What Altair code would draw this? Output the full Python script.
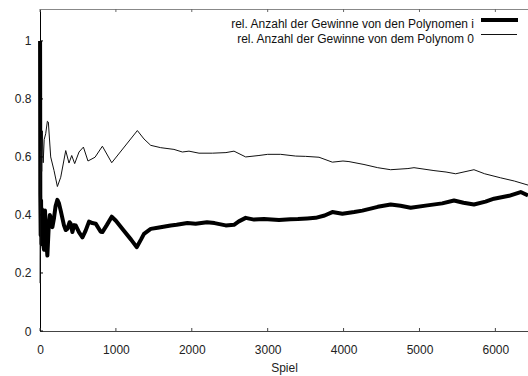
import altair as alt
import pandas as pd

# Spielnummer und relative Gewinnanteile
spiel_i = [1, 4, 9, 14, 20, 26, 31, 42, 53, 66, 80, 97, 115, 130, 141, 163, 185, 205, 229, 250,
           273, 316, 339, 361, 390, 404, 427, 450, 470, 515, 559, 600, 646, 690, 734, 800, 822,
           880, 945, 1000, 1100, 1200, 1274, 1330, 1370, 1459, 1550, 1722, 1800, 1942, 2051,
           2200, 2300, 2447, 2556, 2620, 2710, 2820, 2951, 3149, 3300, 3399, 3520, 3632, 3750,
           3852, 3984, 4140, 4248, 4450, 4621, 4750, 4884, 5104, 5300, 5455, 5580, 5718, 5870,
           5982, 6180, 6333, 6430]
anteil_i = [1.0, 0.47, 0.33, 0.45, 0.30, 0.42, 0.37, 0.30, 0.28, 0.415, 0.33, 0.26, 0.36, 0.40,
            0.39, 0.358, 0.39, 0.43, 0.452, 0.44, 0.415, 0.364, 0.348, 0.352, 0.375, 0.37, 0.341,
            0.365, 0.364, 0.34, 0.323, 0.345, 0.377, 0.372, 0.37, 0.342, 0.341, 0.365, 0.394,
            0.38, 0.347, 0.315, 0.289, 0.315, 0.335, 0.352, 0.356, 0.364, 0.366, 0.372, 0.37,
            0.375, 0.372, 0.364, 0.366, 0.378, 0.39, 0.384, 0.386, 0.383, 0.385, 0.386, 0.388,
            0.39, 0.398, 0.41, 0.404, 0.41, 0.415, 0.428, 0.436, 0.432, 0.425, 0.433, 0.44,
            0.45, 0.442, 0.436, 0.446, 0.456, 0.466, 0.479, 0.467]

spiel_0 = [1, 3, 6, 10, 15, 22, 31, 42, 55, 75, 97, 110, 141, 185, 229, 273, 339, 382, 418,
           457, 514, 572, 632, 725, 822, 945, 1283, 1370, 1459, 1590, 1765, 1876, 1963, 2095,
           2271, 2450, 2556, 2710, 2885, 3000, 3171, 3369, 3500, 3676, 3852, 3992, 4071, 4269,
           4450, 4620, 4848, 4928, 5191, 5350, 5477, 5718, 5859, 6070, 6250, 6430]
anteil_0 = [0.165, 0.5, 0.62, 0.52, 0.66, 0.55, 0.69, 0.58, 0.66, 0.68, 0.723, 0.72, 0.60, 0.553,
            0.498, 0.53, 0.622, 0.579, 0.605, 0.577, 0.617, 0.634, 0.586, 0.599, 0.637, 0.58,
            0.691, 0.662, 0.64, 0.632, 0.626, 0.617, 0.62, 0.613, 0.613, 0.615, 0.62, 0.60,
            0.605, 0.609, 0.609, 0.603, 0.602, 0.599, 0.582, 0.586, 0.584, 0.574, 0.563, 0.556,
            0.56, 0.563, 0.553, 0.548, 0.542, 0.556, 0.542, 0.528, 0.517, 0.503]

legend_labels = ["rel. Anzahl der Gewinne von den Polynomen i",
                 "rel. Anzahl der Gewinne von dem Polynom 0"]

x_ticks = [0, 1000, 2000, 3000, 4000, 5000, 6000]
y_ticks = [0, 0.2, 0.4, 0.6, 0.8, 1]

W, H = 488, 322
FONT = "Liberation Sans"

xs = alt.Scale(domain=[0, 6430], nice=False, zero=False)
ys = alt.Scale(domain=[0, 1.11], nice=False)

df_i = pd.DataFrame({"spiel": spiel_i, "anteil": anteil_i})
df_0 = pd.DataFrame({"spiel": spiel_0, "anteil": anteil_0})

x_axis = alt.Axis(values=x_ticks, title="Spiel", grid=False, ticks=False, tickSize=0,
                  domainColor="#444", labelPadding=13, titlePadding=7, format="d",
                  labelFlush=False, labelOverlap=False)
y_axis = alt.Axis(values=y_ticks, title=None, grid=False, ticks=False, tickSize=0,
                  domainColor="#000", labelPadding=9, format="~g", labelFlush=False)


def X():
    return alt.X("spiel:Q", scale=xs, axis=x_axis, title="Spiel")


def Y():
    return alt.Y("anteil:Q", scale=ys, axis=y_axis, title=None)


line_i = alt.Chart(df_i).mark_line(color="#000", strokeWidth=4, strokeJoin="round").encode(
    x=X(), y=Y())
line_0 = alt.Chart(df_0).mark_line(color="#111", strokeWidth=1).encode(
    x=X(), y=Y())

# inward tick marks (bottom, top mirror, left)
xt = pd.DataFrame({"spiel": x_ticks})
yt = pd.DataFrame({"anteil": y_ticks})
ticks_bottom = alt.Chart(xt).mark_rule(color="#444").encode(
    x=X(), y=alt.value(H), y2=alt.value(H - 3))
ticks_top = alt.Chart(xt).mark_rule(color="#666").encode(
    x=X(), y=alt.value(0), y2=alt.value(3))
ticks_left = alt.Chart(yt).mark_rule(color="#000").encode(
    y=Y(), x=alt.value(0), x2=alt.value(3))

top_border = alt.Chart(xt).mark_rule(color="#888").encode(
    x=alt.value(0), x2=alt.value(W), y=alt.value(0.5))


# key in the upper right corner
def key_text(label, ypos):
    return alt.Chart(pd.DataFrame({"label": [label]})).mark_text(
        align="right", baseline="alphabetic", font=FONT, fontSize=12, color="#111"
    ).encode(text="label:N", x=alt.value(434), y=alt.value(ypos))


leg_text_i = key_text(legend_labels[0], 19)
leg_text_0 = key_text(legend_labels[1], 33.5)
leg_thick = alt.Chart(xt).mark_rule(color="#000", strokeWidth=4).encode(
    x=alt.value(441), x2=alt.value(478), y=alt.value(11))
leg_thin = alt.Chart(xt).mark_rule(color="#111", strokeWidth=1).encode(
    x=alt.value(441), x2=alt.value(477), y=alt.value(25.5))

chart = alt.layer(
    line_i, line_0, top_border, ticks_bottom, ticks_top, ticks_left,
    leg_text_i, leg_text_0, leg_thick, leg_thin
).properties(
    width=W, height=H,
    autosize=alt.AutoSizeParams(type="none"),
    padding={"left": 40, "top": 9, "right": 0, "bottom": 45},
    background="white",
).configure_view(stroke=None).configure_axis(
    labelFont=FONT, labelFontSize=12, labelColor="#222",
    titleFont=FONT, titleFontSize=12, titleFontWeight="normal", titleColor="#222",
    domainWidth=1,
)

chart.save("out.html", embed_options={"renderer": "svg", "actions": False})
